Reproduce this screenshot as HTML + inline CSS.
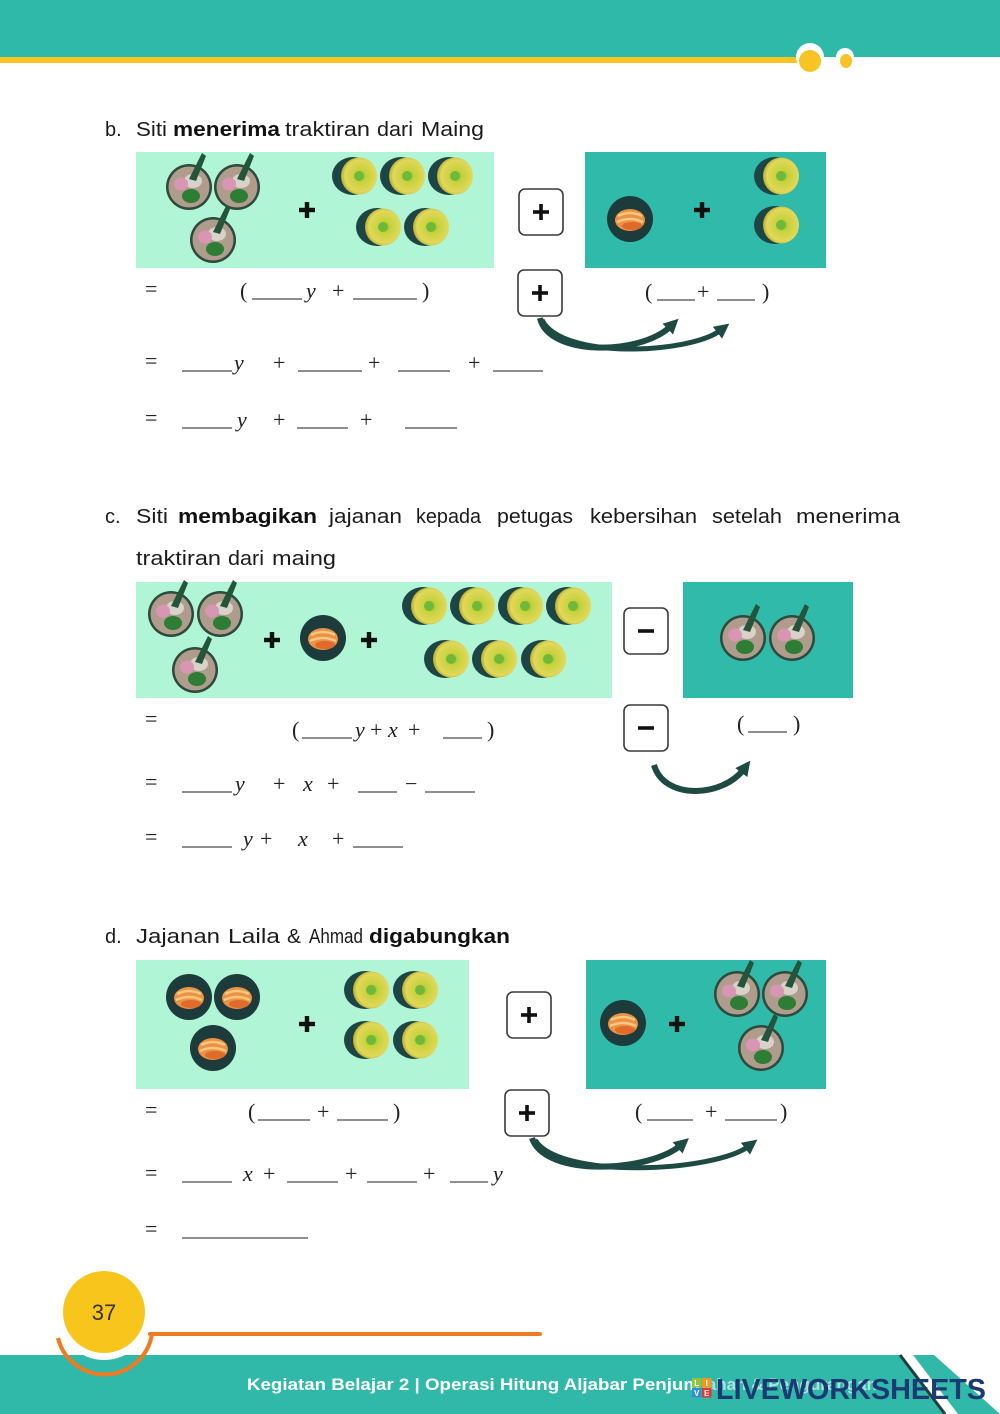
<!DOCTYPE html>
<html>
<head>
<meta charset="utf-8">
<style>
html,body{margin:0;padding:0;background:#fff;}
svg{display:block;}
.h{font-family:"Liberation Sans",sans-serif;font-size:20px;fill:#1b1b1b;}
.hb{font-family:"Liberation Sans",sans-serif;font-size:20px;fill:#111;font-weight:bold;}
.m{font-family:"Liberation Serif",serif;font-size:22px;fill:#222;}
.v{font-family:"Liberation Serif",serif;font-size:22px;fill:#222;font-style:italic;}
.bl{stroke:#4a4a4a;stroke-width:1.3;}
</style>
</head>
<body>
<svg width="1000" height="1414" viewBox="0 0 1000 1414" xmlns="http://www.w3.org/2000/svg">
<defs>
  <radialGradient id="yg" cx="0.55" cy="0.5" r="0.55">
    <stop offset="0" stop-color="#7dc13a"/>
    <stop offset="0.3" stop-color="#c6d23c"/>
    <stop offset="0.8" stop-color="#e2d85a"/>
    <stop offset="1" stop-color="#b6ae30"/>
  </radialGradient>
  <g id="yel">
    <ellipse cx="-3" cy="0" rx="21" ry="19" fill="#1e4545"/>
    <ellipse cx="3" cy="0" rx="18" ry="18.5" fill="url(#yg)"/>
    <circle cx="3" cy="0" r="5" fill="#6fb83a"/>
  </g>
  <g id="bowl">
    <circle r="23" fill="#2d4a3c"/>
    <circle r="20.5" fill="#b09c8c"/>
    <ellipse cx="4" cy="-6" rx="9" ry="7" fill="#d9d2c8"/>
    <ellipse cx="-8" cy="-3" rx="7" ry="6.5" fill="#d895b4"/>
    <ellipse cx="2" cy="9" rx="9" ry="7" fill="#2e7d35"/>
    <path d="M0,-8 L13,-34 L17,-31 L7,-6 Z" fill="#24543a"/>
  </g>
  <g id="org">
    <circle r="23" fill="#1c3b3a"/>
    <ellipse cx="0" cy="1" rx="15" ry="11" fill="#ec9245"/>
    <path d="M-12,-3 Q0,-9 12,-3" stroke="#f8c780" stroke-width="2.5" fill="none"/>
    <path d="M-13,3 Q0,-3 13,3" stroke="#f8c780" stroke-width="2.5" fill="none"/>
    <ellipse cx="2" cy="7" rx="10" ry="4" fill="#e06a2a"/>
  </g>
  <g id="pl" fill="#111">
    <rect x="-8" y="-2.2" width="16" height="4.4"/>
    <rect x="-2.2" y="-8" width="4.4" height="16"/>
  </g>
  <g id="bplus">
    <rect x="0" y="0" width="44" height="46" rx="6" fill="#fff" stroke="#3a3a3a" stroke-width="1.6"/>
    <rect x="14" y="21.2" width="16" height="3.6" fill="#111"/>
    <rect x="20.2" y="15" width="3.6" height="16" fill="#111"/>
  </g>
  <g id="bminus">
    <rect x="0" y="0" width="44" height="46" rx="6" fill="#fff" stroke="#3a3a3a" stroke-width="1.6"/>
    <rect x="14" y="21.2" width="16" height="3.6" fill="#111"/>
  </g>
  <marker id="ah" viewBox="0 0 10 10" refX="3" refY="5" markerWidth="15" markerHeight="15" markerUnits="userSpaceOnUse" orient="auto">
    <path d="M0,0 L10,5 L0,10 z" fill="#1e4a44"/>
  </marker>
</defs>

<!-- Header -->
<rect x="0" y="0" width="1000" height="57" fill="#2fb9a9"/>
<rect x="0" y="57" width="805" height="6" fill="#f7c325"/>
<circle cx="810" cy="57" r="14" fill="#fff"/>
<circle cx="810" cy="61" r="11" fill="#f7c325"/>
<circle cx="845" cy="57" r="9" fill="#fff"/>
<ellipse cx="846" cy="61" rx="6" ry="7" fill="#f7c325"/>

<!-- Section b -->
<text class="h" x="105" y="136">b.</text>
<text class="h" x="136" y="136" textLength="31" lengthAdjust="spacingAndGlyphs">Siti</text>
<text class="hb" x="173" y="136" textLength="107" lengthAdjust="spacingAndGlyphs">menerima</text>
<text class="h" x="285" y="136" textLength="85" lengthAdjust="spacingAndGlyphs">traktiran</text>
<text class="h" x="377" y="136" textLength="36" lengthAdjust="spacingAndGlyphs">dari</text>
<text class="h" x="421" y="136" textLength="63" lengthAdjust="spacingAndGlyphs">Maing</text>

<rect x="136" y="152" width="358" height="116" fill="#b1f5d7"/>
<use href="#bowl" x="189" y="187"/>
<use href="#bowl" x="237" y="187"/>
<use href="#bowl" x="213" y="240"/>
<use href="#pl" x="307" y="210"/>
<use href="#yel" x="356" y="176"/>
<use href="#yel" x="404" y="176"/>
<use href="#yel" x="452" y="176"/>
<use href="#yel" x="380" y="227"/>
<use href="#yel" x="428" y="227"/>

<rect x="585" y="152" width="241" height="116" fill="#2fbaa9"/>
<use href="#org" x="630" y="219"/>
<use href="#pl" x="702" y="210"/>
<use href="#yel" x="778" y="176"/>
<use href="#yel" x="778" y="225"/>

<use href="#bplus" x="519" y="189"/>
<use href="#bplus" x="518" y="270"/>

<path d="M540,318 C548,356 640,356 671,326" stroke="#1e4a44" stroke-width="6" fill="none" marker-end="url(#ah)"/>
<path d="M542,320 C562,360 690,354 721,330" stroke="#1e4a44" stroke-width="5" fill="none" marker-end="url(#ah)"/>

<!-- b equations -->
<text class="m" x="145" y="296">=</text>
<text class="m" x="240" y="298">(</text>
<line class="bl" x1="252" y1="299" x2="302" y2="299"/>
<text class="v" x="306" y="298">y</text>
<text class="m" x="332" y="298">+</text>
<line class="bl" x1="353" y1="299" x2="417" y2="299"/>
<text class="m" x="422" y="298">)</text>

<text class="m" x="645" y="299">(</text>
<line class="bl" x1="657" y1="300" x2="695" y2="300"/>
<text class="m" x="697" y="299">+</text>
<line class="bl" x1="717" y1="300" x2="755" y2="300"/>
<text class="m" x="762" y="299">)</text>

<text class="m" x="145" y="368">=</text>
<line class="bl" x1="182" y1="371" x2="232" y2="371"/>
<text class="v" x="234" y="370">y</text>
<text class="m" x="273" y="370">+</text>
<line class="bl" x1="298" y1="371" x2="362" y2="371"/>
<text class="m" x="368" y="370">+</text>
<line class="bl" x1="398" y1="371" x2="450" y2="371"/>
<text class="m" x="468" y="370">+</text>
<line class="bl" x1="493" y1="371" x2="543" y2="371"/>

<text class="m" x="145" y="425">=</text>
<line class="bl" x1="182" y1="428" x2="232" y2="428"/>
<text class="v" x="237" y="427">y</text>
<text class="m" x="273" y="427">+</text>
<line class="bl" x1="297" y1="428" x2="348" y2="428"/>
<text class="m" x="360" y="427">+</text>
<line class="bl" x1="405" y1="428" x2="457" y2="428"/>

<!-- Section c -->
<text class="h" x="105" y="523">c.</text>
<text class="h" x="136" y="523" textLength="32" lengthAdjust="spacingAndGlyphs">Siti</text>
<text class="hb" x="178" y="523" textLength="139" lengthAdjust="spacingAndGlyphs">membagikan</text>
<text class="h" x="329" y="523" textLength="73" lengthAdjust="spacingAndGlyphs">jajanan</text>
<text class="h" x="416" y="523" textLength="65" lengthAdjust="spacingAndGlyphs">kepada</text>
<text class="h" x="497" y="523" textLength="76" lengthAdjust="spacingAndGlyphs">petugas</text>
<text class="h" x="590" y="523" textLength="107" lengthAdjust="spacingAndGlyphs">kebersihan</text>
<text class="h" x="712" y="523" textLength="70" lengthAdjust="spacingAndGlyphs">setelah</text>
<text class="h" x="796" y="523" textLength="104" lengthAdjust="spacingAndGlyphs">menerima</text>
<text class="h" x="136" y="565" textLength="85" lengthAdjust="spacingAndGlyphs">traktiran</text>
<text class="h" x="228" y="565" textLength="36" lengthAdjust="spacingAndGlyphs">dari</text>
<text class="h" x="272" y="565" textLength="64" lengthAdjust="spacingAndGlyphs">maing</text>

<rect x="136" y="582" width="476" height="116" fill="#b1f5d7"/>
<use href="#bowl" x="171" y="614"/>
<use href="#bowl" x="220" y="614"/>
<use href="#bowl" x="195" y="670"/>
<use href="#pl" x="272" y="640"/>
<use href="#org" x="323" y="638"/>
<use href="#pl" x="369" y="640"/>
<use href="#yel" x="426" y="606"/>
<use href="#yel" x="474" y="606"/>
<use href="#yel" x="522" y="606"/>
<use href="#yel" x="570" y="606"/>
<use href="#yel" x="448" y="659"/>
<use href="#yel" x="496" y="659"/>
<use href="#yel" x="545" y="659"/>

<rect x="683" y="582" width="170" height="116" fill="#2fbaa9"/>
<use href="#bowl" x="743" y="638"/>
<use href="#bowl" x="792" y="638"/>

<use href="#bminus" x="624" y="608"/>
<use href="#bminus" x="624" y="705"/>

<path d="M654,765 C664,800 722,798 744,769" stroke="#1e4a44" stroke-width="6" fill="none" marker-end="url(#ah)"/>

<!-- c equations -->
<text class="m" x="145" y="726">=</text>
<text class="m" x="292" y="737">(</text>
<line class="bl" x1="302" y1="738" x2="352" y2="738"/>
<text class="v" x="355" y="737">y</text>
<text class="m" x="370" y="737">+</text>
<text class="v" x="388" y="737">x</text>
<text class="m" x="408" y="737">+</text>
<line class="bl" x1="443" y1="738" x2="482" y2="738"/>
<text class="m" x="487" y="737">)</text>

<text class="m" x="737" y="731">(</text>
<line class="bl" x1="748" y1="732" x2="787" y2="732"/>
<text class="m" x="793" y="731">)</text>

<text class="m" x="145" y="789">=</text>
<line class="bl" x1="182" y1="792" x2="232" y2="792"/>
<text class="v" x="235" y="791">y</text>
<text class="m" x="273" y="791">+</text>
<text class="v" x="303" y="791">x</text>
<text class="m" x="327" y="791">+</text>
<line class="bl" x1="358" y1="792" x2="397" y2="792"/>
<text class="m" x="405" y="791">−</text>
<line class="bl" x1="425" y1="792" x2="475" y2="792"/>

<text class="m" x="145" y="844">=</text>
<line class="bl" x1="182" y1="847" x2="232" y2="847"/>
<text class="v" x="243" y="846">y</text>
<text class="m" x="260" y="846">+</text>
<text class="v" x="298" y="846">x</text>
<text class="m" x="332" y="846">+</text>
<line class="bl" x1="353" y1="847" x2="403" y2="847"/>

<!-- Section d -->
<text class="h" x="105" y="943">d.</text>
<text class="h" x="136" y="943" textLength="84" lengthAdjust="spacingAndGlyphs">Jajanan</text>
<text class="h" x="228" y="943" textLength="52" lengthAdjust="spacingAndGlyphs">Laila</text>
<text class="h" x="287" y="943" textLength="14" lengthAdjust="spacingAndGlyphs">&amp;</text>
<text class="h" x="309" y="943" textLength="54" lengthAdjust="spacingAndGlyphs">Ahmad</text>
<text class="hb" x="369" y="943" textLength="141" lengthAdjust="spacingAndGlyphs">digabungkan</text>

<rect x="136" y="960" width="333" height="129" fill="#b1f5d7"/>
<use href="#org" x="189" y="997"/>
<use href="#org" x="237" y="997"/>
<use href="#org" x="213" y="1048"/>
<use href="#pl" x="307" y="1024"/>
<use href="#yel" x="368" y="990"/>
<use href="#yel" x="417" y="990"/>
<use href="#yel" x="368" y="1040"/>
<use href="#yel" x="417" y="1040"/>

<rect x="586" y="960" width="240" height="129" fill="#2fbaa9"/>
<use href="#org" x="623" y="1023"/>
<use href="#pl" x="677" y="1024"/>
<use href="#bowl" x="737" y="994"/>
<use href="#bowl" x="785" y="994"/>
<use href="#bowl" x="761" y="1048"/>

<use href="#bplus" x="507" y="992"/>
<use href="#bplus" x="505" y="1090"/>

<path d="M532,1138 C545,1178 650,1172 681,1145" stroke="#1e4a44" stroke-width="6" fill="none" marker-end="url(#ah)"/>
<path d="M535,1140 C560,1180 715,1172 749,1146" stroke="#1e4a44" stroke-width="5" fill="none" marker-end="url(#ah)"/>

<!-- d equations -->
<text class="m" x="145" y="1117">=</text>
<text class="m" x="248" y="1119">(</text>
<line class="bl" x1="258" y1="1120" x2="310" y2="1120"/>
<text class="m" x="317" y="1119">+</text>
<line class="bl" x1="337" y1="1120" x2="388" y2="1120"/>
<text class="m" x="393" y="1119">)</text>

<text class="m" x="635" y="1119">(</text>
<line class="bl" x1="647" y1="1120" x2="693" y2="1120"/>
<text class="m" x="705" y="1119">+</text>
<line class="bl" x1="725" y1="1120" x2="777" y2="1120"/>
<text class="m" x="780" y="1119">)</text>

<text class="m" x="145" y="1180">=</text>
<line class="bl" x1="182" y1="1182" x2="232" y2="1182"/>
<text class="v" x="243" y="1181">x</text>
<text class="m" x="263" y="1181">+</text>
<line class="bl" x1="287" y1="1182" x2="338" y2="1182"/>
<text class="m" x="345" y="1181">+</text>
<line class="bl" x1="367" y1="1182" x2="417" y2="1182"/>
<text class="m" x="423" y="1181">+</text>
<line class="bl" x1="450" y1="1182" x2="488" y2="1182"/>
<text class="v" x="493" y="1181">y</text>

<text class="m" x="145" y="1236">=</text>
<line class="bl" x1="182" y1="1238" x2="308" y2="1238"/>

<!-- Footer -->
<polygon points="0,1355 900,1355 945,1414 0,1414" fill="#30b8a8"/>
<line x1="900" y1="1355" x2="945" y2="1414" stroke="#1f3f3f" stroke-width="3"/>
<polygon points="913,1355 934,1355 1000,1414 958,1414" fill="#30b8a8"/>
<circle cx="104" cy="1314" r="46" fill="#fff"/>
<path d="M58,1338 A48 48 0 0 0 152,1334" stroke="#f07a20" stroke-width="4" fill="none"/>
<line x1="150" y1="1334" x2="540" y2="1334" stroke="#f07a20" stroke-width="4" stroke-linecap="round"/>
<circle cx="104" cy="1312" r="41" fill="#f8c51c"/>
<text x="104" y="1320" text-anchor="middle" font-family="Liberation Sans, sans-serif" font-size="22" fill="#333">37</text>

<text x="247" y="1390" font-family="Liberation Sans, sans-serif" font-size="16.5" font-weight="bold" fill="#ffffff" textLength="453" lengthAdjust="spacingAndGlyphs">Kegiatan Belajar 2 | Operasi Hitung Aljabar Penjum</text>
<text x="702" y="1390" font-family="Liberation Sans, sans-serif" font-size="16.5" font-weight="bold" fill="#ffffff" opacity="0.6" textLength="175" lengthAdjust="spacingAndGlyphs">lahan &amp; Pengurangan</text>

<rect x="692" y="1378" width="9.5" height="9.5" fill="#8cc63f"/>
<rect x="702" y="1378" width="9.5" height="9.5" fill="#f7941d"/>
<rect x="692" y="1388" width="9.5" height="9.5" fill="#2e8fd8"/>
<rect x="702" y="1388" width="9.5" height="9.5" fill="#e8352e"/>
<text x="696.7" y="1386" text-anchor="middle" font-family="Liberation Sans, sans-serif" font-size="8" font-weight="bold" fill="#fff">L</text>
<text x="706.7" y="1386" text-anchor="middle" font-family="Liberation Sans, sans-serif" font-size="8" font-weight="bold" fill="#fff">I</text>
<text x="696.7" y="1396" text-anchor="middle" font-family="Liberation Sans, sans-serif" font-size="8" font-weight="bold" fill="#fff">V</text>
<text x="706.7" y="1396" text-anchor="middle" font-family="Liberation Sans, sans-serif" font-size="8" font-weight="bold" fill="#fff">E</text>
<text x="716" y="1399" font-family="Liberation Sans, sans-serif" font-size="29" font-weight="bold" fill="#1b3a73" textLength="270" lengthAdjust="spacingAndGlyphs">LIVEWORKSHEETS</text>
</svg>
</body>
</html>
